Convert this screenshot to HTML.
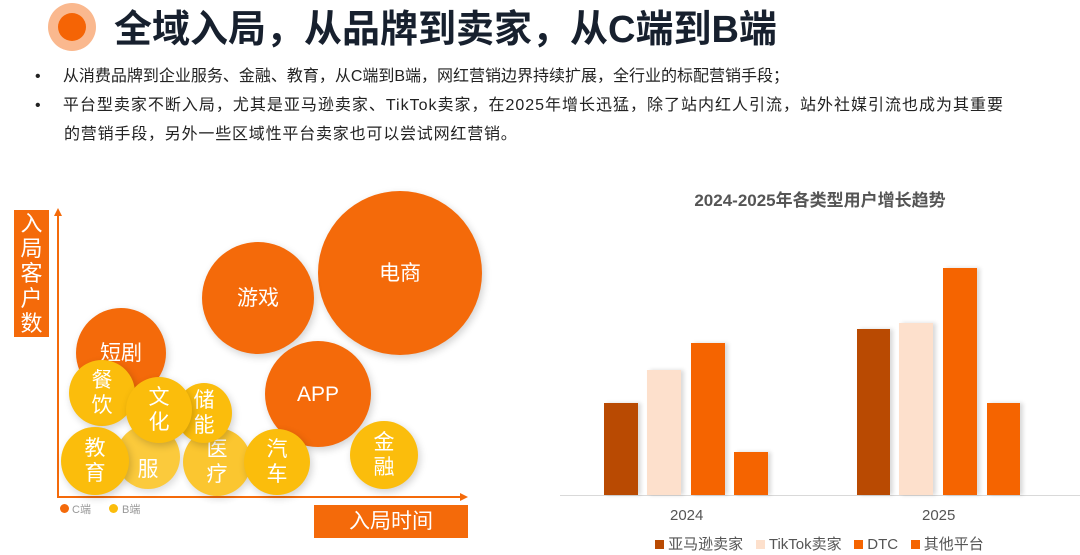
<!DOCTYPE html>
<html><head><meta charset="utf-8"><style>
body{margin:0;width:1080px;height:555px;background:#fff;position:relative;overflow:hidden;font-family:"Liberation Sans","Noto Sans CJK SC",sans-serif}
.a{position:absolute;white-space:nowrap}
.b{position:absolute;border-radius:50%;display:flex;align-items:center;justify-content:center;text-align:center;color:#fff;font-size:21px;line-height:25px;box-shadow:2px 3px 8px rgba(0,0,0,.18)}
.o{background:#f46a0a}.y{background:#fbbd0c}
.bar{position:absolute;box-shadow:3px 0 4px rgba(0,0,0,.15)}
</style></head><body>
<div class="a" style="left:48px;top:3px;width:48px;height:48px;border-radius:50%;background:#fab88e"></div>
<div class="a" style="left:58px;top:13px;width:28px;height:28px;border-radius:50%;background:#f56405"></div>
<div class="a" style="left:114px;top:6px;font-size:38px;font-weight:bold;color:#17202e;line-height:48px">全域入局，从品牌到卖家，从C端到B端</div>
<div class="a" style="left:35px;top:62px;font-size:16px;line-height:29px;color:#222">
<div>•&nbsp;&nbsp;&nbsp;&nbsp;&nbsp;从消费品牌到企业服务、金融、教育，从C端到B端，网红营销边界持续扩展，全行业的标配营销手段；</div>
<div>•&nbsp;&nbsp;&nbsp;&nbsp;&nbsp;<span style="letter-spacing:1px">平台型卖家不断入局，尤其是亚马逊卖家、TikTok卖家，在2025年增长迅猛，除了站内红人引流，站外社媒引流也成为其重要</span></div>
<div style="padding-left:29px;letter-spacing:0.8px">的营销手段，另外一些区域性平台卖家也可以尝试网红营销。</div></div>

<div class="a" style="left:14px;top:210px;width:35px;height:126px;background:#f46a0a;color:#fff;font-size:22px;line-height:25px;text-align:center;white-space:normal;padding-top:1px">入<br>局<br>客<br>户<br>数</div>
<div class="a" style="left:57px;top:214px;width:2px;height:284px;background:#f46a0a"></div>
<div class="a" style="left:54px;top:208px;width:0;height:0;border-left:4px solid transparent;border-right:4px solid transparent;border-bottom:8px solid #f46a0a"></div>
<div class="a" style="left:57px;top:496px;width:405px;height:2px;background:#f46a0a"></div>
<div class="a" style="left:460px;top:493px;width:0;height:0;border-top:4px solid transparent;border-bottom:4px solid transparent;border-left:8px solid #f46a0a"></div>
<div class="a" style="left:314px;top:505px;width:154px;height:33px;background:#f46a0a;color:#fff;font-size:21px;line-height:33px;text-align:center">入局时间</div>
<div class="a" style="left:60px;top:504px;width:9px;height:9px;border-radius:50%;background:#f46a0a"></div>
<div class="a" style="left:72px;top:501px;font-size:11px;color:#999">C端</div>
<div class="a" style="left:109px;top:504px;width:9px;height:9px;border-radius:50%;background:#fbbd0c"></div>
<div class="a" style="left:122px;top:501px;font-size:11px;color:#999">B端</div>

<div class="b o" style="left:318px;top:191px;width:164px;height:164px">电商</div>
<div class="b o" style="left:202px;top:242px;width:112px;height:112px">游戏</div>
<div class="b o" style="left:76px;top:308px;width:90px;height:90px;align-items:flex-start;padding-top:0"><span style="margin-top:33px">短剧</span></div>
<div class="b o" style="left:265px;top:341px;width:106px;height:106px">APP</div>
<div class="b y" style="left:116px;top:425px;width:64px;height:64px;opacity:.8">&nbsp;<br>服</div>
<div class="b y" style="left:183px;top:428px;width:68px;height:68px;opacity:.85">医<br>疗</div>
<div class="b y" style="left:176px;top:383px;width:56px;height:60px">储<br>能</div>
<div class="b y" style="left:69px;top:360px;width:66px;height:66px">餐<br>饮</div>
<div class="b y" style="left:126px;top:377px;width:66px;height:66px">文<br>化</div>
<div class="b y" style="left:61px;top:427px;width:68px;height:68px">教<br>育</div>
<div class="b y" style="left:244px;top:429px;width:66px;height:66px">汽<br>车</div>
<div class="b y" style="left:350px;top:421px;width:68px;height:68px">金<br>融</div>

<div class="a" style="left:660px;top:186px;width:320px;text-align:center;font-size:17px;font-weight:bold;color:#555">2024-2025年各类型用户增长趋势</div>
<div class="a" style="left:560px;top:495px;width:520px;height:1px;background:#d9d9d9"></div>
<div class="bar" style="left:604px;top:403px;width:34px;height:92px;background:#b94a02"></div>
<div class="bar" style="left:647px;top:370px;width:34px;height:125px;background:#fde0cc"></div>
<div class="bar" style="left:691px;top:343px;width:34px;height:152px;background:#f56400"></div>
<div class="bar" style="left:734px;top:452px;width:34px;height:43px;background:#f56400"></div>
<div class="bar" style="left:857px;top:329px;width:33px;height:166px;background:#b94a02"></div>
<div class="bar" style="left:899px;top:323px;width:34px;height:172px;background:#fde0cc"></div>
<div class="bar" style="left:943px;top:268px;width:34px;height:227px;background:#f56400"></div>
<div class="bar" style="left:987px;top:403px;width:33px;height:92px;background:#f56400"></div>
<div class="a" style="left:670px;top:507px;font-size:15px;color:#555">2024</div>
<div class="a" style="left:922px;top:507px;font-size:15px;color:#555">2025</div>
<div class="a" style="left:655px;top:535px;font-size:15px;color:#555;line-height:20px">
<span style="display:inline-block;width:9px;height:9px;background:#b94a02"></span> 亚马逊卖家&nbsp;&nbsp;&nbsp;<span style="display:inline-block;width:9px;height:9px;background:#fde0cc"></span> TikTok卖家&nbsp;&nbsp;&nbsp;<span style="display:inline-block;width:9px;height:9px;background:#f56400"></span> DTC&nbsp;&nbsp;&nbsp;<span style="display:inline-block;width:9px;height:9px;background:#f56400"></span> 其他平台</div>
</body></html>
